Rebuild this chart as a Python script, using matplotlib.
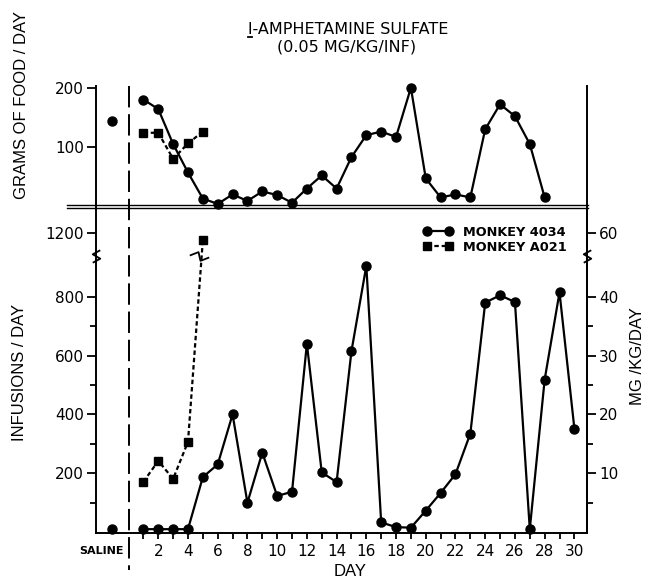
import numpy as np
import matplotlib
matplotlib.use("Agg")
import matplotlib.pyplot as plt
from matplotlib.lines import Line2D
from matplotlib.path import Path
from matplotlib.markers import MarkerStyle
import matplotlib.transforms as mtrans

# ---------------- data ----------------
saline_day = -1.1
days_food_4034 = list(range(1, 29))
food_4034 = [180, 164, 105, 57, 13, 4, 20, 9, 25, 19, 6, 30, 52, 30, 83,
             120, 126, 117, 200, 47, 15, 20, 15, 130, 172, 152, 105, 15]
food_saline_4034 = 144
days_food_a021 = [1, 2, 3, 4, 5]
food_a021 = [124, 124, 80, 106, 126]

days_inf_4034 = list(range(1, 31))
inf_4034 = [10, 10, 10, 10, 187, 230, 400, 100, 270, 123, 137, 640, 203, 170,
            615, 905, 33, 17, 15, 73, 133, 197, 335, 780, 805, 782, 10, 518,
            815, 352]
inf_saline_4034 = 10
days_inf_a021 = [1, 2, 3, 4, 5]
inf_a021 = [171, 242, 181, 307, 1178]

dose = 0.05  # mg/kg per infusion
inf_ticks = [200, 400, 600, 800, 1200]
inf_minor = [100, 300, 500, 700]
mg_ticks = [10, 20, 30, 40, 60]
mg_minor = [5, 15, 25, 35]
food_ticks = [100, 200]
day_ticks = list(range(2, 31, 2))
day_minor = list(range(1, 31))

# broken-axis scale
B, S, C = 930.0, 200.0, 0.075


def fwd(v):
    v = np.asarray(v, dtype=float)
    return np.where(v <= B, v, np.where(v <= B + S, B + (v - B) * C, v - S + C * S))


def inv(t):
    t = np.asarray(t, dtype=float)
    return np.where(t <= B, t, np.where(t <= B + C * S, B + (t - B) / C, t + S - C * S))


W, H = 646, 580
fig = plt.figure(figsize=(W / 100, H / 100), dpi=100)

def fx(px):
    return px / W

def fy(py):
    return (H - py) / H

left_px, right_px = 96, 587.3
bot_px, mid_px, top_px = 532.7, 207.0, 86.0

ax = fig.add_axes([fx(left_px), fy(bot_px), fx(right_px - left_px), (bot_px - mid_px) / H])
axt = fig.add_axes([fx(left_px), fy(mid_px), fx(right_px - left_px), (mid_px - top_px) / H])

xlim = (-2.19, 30.87)
lw = 1.6
ms_c = 6.5
ms_s = 6.0
tickfont = dict(family="DejaVu Sans", size=11)
dash_a021 = (0, (2.0, 1.3))

# ---------------- top panel ----------------
axt.set_xlim(*xlim)
axt.set_ylim(-1.2, 202.9)
axt.plot(days_food_4034, food_4034, color="black", lw=lw, marker="o", ms=ms_c, clip_on=False)
axt.plot([saline_day], [food_saline_4034], color="black", marker="o", ms=ms_c, ls="none", clip_on=False)
axt.plot(days_food_a021, food_a021, color="black", lw=lw, ls=dash_a021, marker="s", ms=ms_s, clip_on=False)
for s in ["top", "bottom"]:
    axt.spines[s].set_visible(False)
for s in ["left", "right"]:
    axt.spines[s].set_linewidth(1.4)
axt.set_xticks([])
axt.set_yticks(food_ticks)
axt.set_yticklabels([str(v) for v in food_ticks], **tickfont)
axt.tick_params(axis="y", direction="out", length=6.5, width=1.3, pad=2, right=False)
axt.patch.set_alpha(0)

# ---------------- bottom panel ----------------
ax.set_yscale("function", functions=(fwd, inv))
ax.set_xlim(*xlim)
ax.set_ylim(-2, 1290)
ax.plot(days_inf_4034, inf_4034, color="black", lw=lw, marker="o", ms=ms_c, clip_on=False,
        label="MONKEY 4034")
ax.plot([saline_day], [inf_saline_4034], color="black", marker="o", ms=ms_c, ls="none", clip_on=False)
ax.plot(days_inf_a021, inf_a021, color="black", lw=lw, ls=dash_a021, marker="s", ms=ms_s,
        clip_on=False, label="MONKEY A021")
ax.spines["top"].set_visible(False)
for s in ["left", "right", "bottom"]:
    ax.spines[s].set_linewidth(1.4)
ax.set_yticks(inf_ticks)
ax.set_yticklabels([str(v) for v in inf_ticks], **tickfont)
ax.set_yticks(inf_minor, minor=True)
ax.set_xticks(day_ticks)
ax.set_xticklabels([str(v) for v in day_ticks], **tickfont)
ax.set_xticks(day_minor, minor=True)
ax.tick_params(axis="y", which="major", direction="out", length=6.5, width=1.3, pad=2)
ax.tick_params(axis="y", which="minor", direction="out", length=4, width=1.3)
ax.tick_params(axis="x", which="both", direction="out", length=4, width=1.3, pad=4)

ax2 = ax.twinx()
ax2.set_yscale("function", functions=(fwd, inv))
ax2.set_ylim(ax.get_ylim())
ax2.set_yticks([m / dose for m in mg_ticks])
ax2.set_yticklabels([str(m) for m in mg_ticks], **tickfont)
ax2.set_yticks([m / dose for m in mg_minor], minor=True)
ax2.tick_params(axis="y", which="major", direction="out", length=6.5, width=1.3, pad=2)
ax2.tick_params(axis="y", which="minor", direction="out", length=4, width=1.3)
for s in ["top", "left", "bottom"]:
    ax2.spines[s].set_visible(False)
ax2.spines["right"].set_linewidth(1.4)

# axis break marks (zigzag)
zz_v = Path([(-0.6, -1.0), (0.6, -0.35), (-0.6, 0.35), (0.6, 1.0)],
            [Path.MOVETO, Path.LINETO, Path.LINETO, Path.LINETO])
brk = B + S / 2
for xx in [xlim[0], xlim[1]]:
    ax.plot([xx], [brk], marker=MarkerStyle(zz_v), ms=9, mew=1.3, mec="black",
            mfc="none", ls="none", clip_on=False, zorder=5)
# break on the A021 line
t4, t5 = fwd([inf_a021[3], inf_a021[4]])
tb = fwd(brk)
frac = (tb - t4) / (t5 - t4)
xb = days_inf_a021[3] + frac * (days_inf_a021[4] - days_inf_a021[3])
zz_h = Path([(-1.0, 0.1), (-0.1, 0.45), (0.1, -0.45), (1.0, -0.1)],
            [Path.MOVETO, Path.LINETO, Path.LINETO, Path.LINETO])
ax.plot([xb - 0.15], [brk], marker=MarkerStyle(zz_h), ms=14, mew=1.3, mec="black",
        mfc="none", ls="none", clip_on=False, zorder=5)

# legend
handles = [Line2D([], [], color="black", lw=lw, marker="o", ms=ms_c),
           Line2D([], [], color="black", lw=lw, ls=dash_a021, marker="s", ms=ms_s)]
fig.legend(handles, ["MONKEY 4034", "MONKEY A021"], loc="upper left",
           bbox_to_anchor=(fx(423), fy(226)), bbox_transform=fig.transFigure,
           frameon=False, numpoints=2, handlelength=2.3, handletextpad=0.8,
           labelspacing=0.15, borderpad=0, borderaxespad=0,
           prop=dict(family="DejaVu Sans", weight="bold", size=9.3))

# vertical dashed separator at day 0 through both panels
blend = mtrans.blended_transform_factory(ax.transData, fig.transFigure)
fig.add_artist(Line2D([0, 0], [fy(86), fy(570)], transform=blend, color="black",
                      lw=1.4, ls=(0, (11, 3.5))))

# double baseline of top panel
for py in [205.0, 208.2]:
    fig.add_artist(Line2D([fx(67), fx(588)], [fy(py), fy(py)], transform=fig.transFigure,
                          color="black", lw=1.0))

# SALINE label
fig.text(-0.3, fy(551), "SALINE", transform=blend, ha="right", va="center",
         family="DejaVu Sans", weight="bold", fontsize=8)

# axis labels
labfont = dict(family="Liberation Sans", fontsize=12)
fig.text(fx(350), fy(572), "DAY", ha="center", va="center", **labfont)
fig.text(fx(20), fy(372), "INFUSIONS / DAY", rotation=90, ha="center", va="center", **labfont)
fig.text(fx(22), fy(105), "GRAMS OF FOOD / DAY", rotation=90, ha="center", va="center", **labfont)
fig.text(fx(638), fy(356), "MG /KG/DAY", rotation=90, ha="center", va="center", **labfont)

# title
t1 = fig.text(fx(348), fy(34), "l-AMPHETAMINE SULFATE", ha="center", va="baseline",
              family="DejaVu Sans", fontsize=11.5)
fig.text(fx(347), fy(47), "(0.05 MG/KG/INF)", ha="center", va="center",
         family="DejaVu Sans", fontsize=11.5)
fig.canvas.draw()
r = fig.canvas.get_renderer()
bb = t1.get_window_extent(r)
tmp = fig.text(0, 0, "l", family="DejaVu Sans", fontsize=11.5)
wl = tmp.get_window_extent(r).width
tmp.remove()
x0 = bb.x0
x1 = bb.x0 + wl
yline = fy(34) * H - 3
fig.add_artist(Line2D([x0 / W, x1 / W], [yline / H, yline / H], transform=fig.transFigure,
                      color="black", lw=1.3))

fig.savefig("out.png", dpi=100)
